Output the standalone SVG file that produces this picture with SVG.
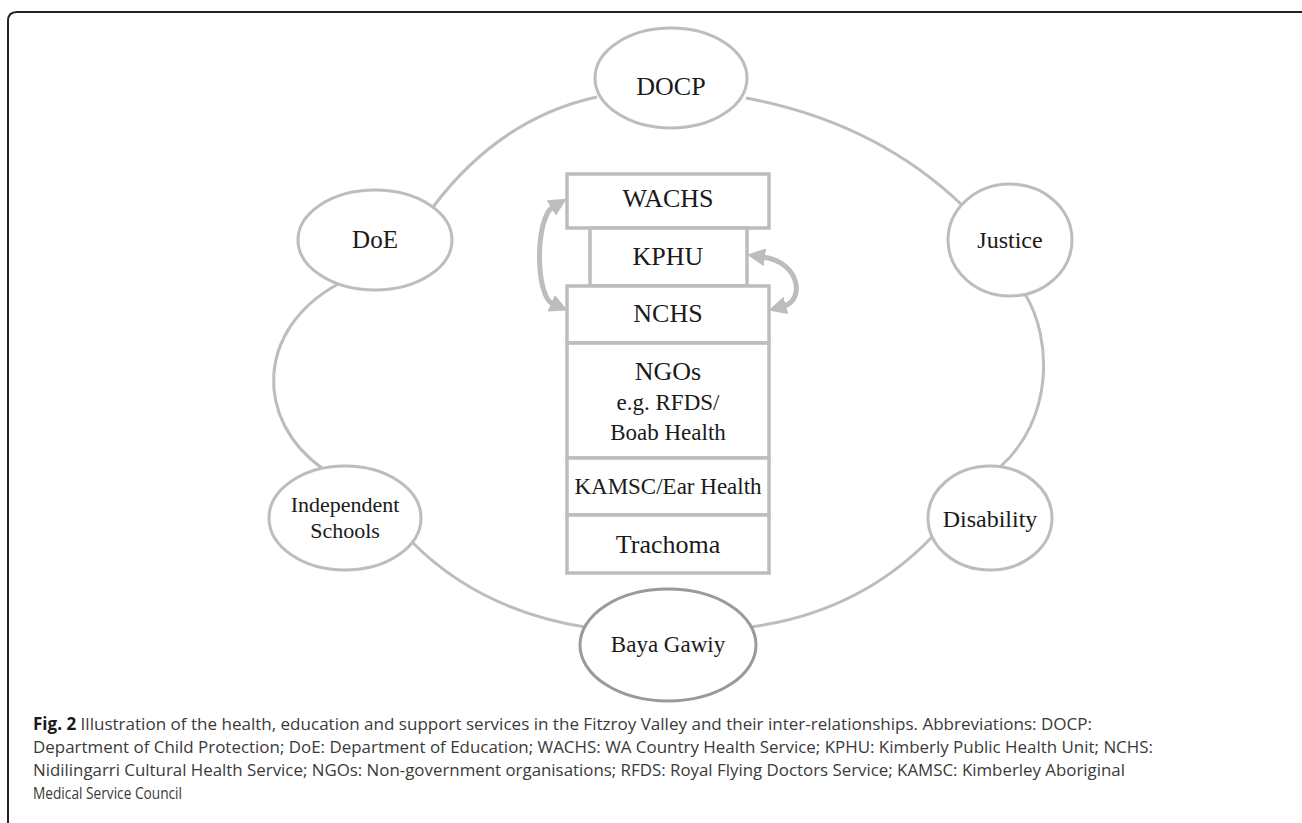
<svg xmlns="http://www.w3.org/2000/svg" width="1302" height="823" viewBox="0 0 1302 823">
<style>
.node ellipse{fill:#fff;stroke:#bdbdbd;stroke-width:3}
.node rect{fill:#fff;stroke:#bdbdbd;stroke-width:3.5}
.lbl{font-family:"Liberation Serif","Times New Roman",serif;fill:#1a1a1a;text-anchor:middle}
.ring{fill:none;stroke:#bdbdbd;stroke-width:3}
.arr{fill:none;stroke:#bdbdbd;stroke-width:5}
.cap{font-family:"Open Sans","Liberation Sans",sans-serif;font-size:17px;fill:#3a3a3a}
</style>
<defs>
<marker id="ah" markerUnits="userSpaceOnUse" markerWidth="20" markerHeight="18" refX="2" refY="9" orient="auto-start-reverse">
<path d="M0,0 L18,9 L0,18 z" fill="#bdbdbd"/>
</marker>
</defs>
<rect width="1302" height="823" fill="#fff"/>
<path d="M8 823 V21 Q8 12 17 12 H1302" fill="none" stroke="#222" stroke-width="2"/>
<g id="connectors">
<path class="ring" d="M597 97 Q500 118 433 207"/>
<path class="ring" d="M746 98 Q875 122 962 205"/>
<path class="ring" d="M338 284 C255 330 255 420 322 468"/>
<path class="ring" d="M1025 294 C1053 340 1053 420 1000 467"/>
<path class="ring" d="M413 543 Q480 610 585 627"/>
<path class="ring" d="M932 537 Q860 612 751 627"/>
<path class="arr" marker-start="url(#ah)" marker-end="url(#ah)" d="M553 207 C535 218 535 296 553 304"/>
<path class="arr" marker-start="url(#ah)" marker-end="url(#ah)" d="M763 257 C800 262 805 300 784 306"/>
</g>
<g id="DOCP" class="node"><ellipse cx="671" cy="78" rx="76" ry="50"/><text class="lbl" x="671" y="95" font-size="26">DOCP</text></g>
<g id="DoE" class="node"><ellipse cx="375" cy="240" rx="77" ry="50"/><text class="lbl" x="375" y="248" font-size="25">DoE</text></g>
<g id="Justice" class="node"><ellipse cx="1010" cy="240" rx="62" ry="56"/><text class="lbl" x="1010" y="248" font-size="24">Justice</text></g>
<g id="IndependentSchools" class="node"><ellipse cx="345" cy="518" rx="76" ry="52"/><text class="lbl" x="345" y="512" font-size="22">Independent</text><text class="lbl" x="345" y="538" font-size="22">Schools</text></g>
<g id="Disability" class="node"><ellipse cx="990" cy="518" rx="62" ry="52"/><text class="lbl" x="990" y="527" font-size="24">Disability</text></g>
<g id="BayaGawiy" class="node"><ellipse cx="668" cy="645" rx="88" ry="56" style="stroke:#9a9a9a"/><text class="lbl" x="668" y="652" font-size="23">Baya Gawiy</text></g>
<g id="WACHS" class="node"><rect x="567" y="174" width="202" height="54"/><text class="lbl" x="668" y="207" font-size="26">WACHS</text></g>
<g id="KPHU" class="node"><rect x="590" y="228" width="157" height="58"/><text class="lbl" x="668" y="265" font-size="26">KPHU</text></g>
<g id="NCHS" class="node"><rect x="567" y="286" width="202" height="57"/><text class="lbl" x="668" y="322" font-size="26">NCHS</text></g>
<g id="NGOs" class="node"><rect x="567" y="343" width="202" height="115"/><text class="lbl" x="668" y="380" font-size="26">NGOs</text><text class="lbl" x="668" y="410" font-size="23">e.g. RFDS/</text><text class="lbl" x="668" y="440" font-size="23">Boab Health</text></g>
<g id="KAMSC" class="node"><rect x="567" y="458" width="202" height="57"/><text class="lbl" x="668" y="494" font-size="23">KAMSC/Ear Health</text></g>
<g id="Trachoma" class="node"><rect x="567" y="515" width="202" height="58"/><text class="lbl" x="668" y="553" font-size="26">Trachoma</text></g>
<g id="caption">
<text class="cap" x="33" y="730" textLength="1059" lengthAdjust="spacingAndGlyphs"><tspan font-weight="bold" fill="#1a1a1a">Fig. 2</tspan> Illustration of the health, education and support services in the Fitzroy Valley and their inter-relationships. Abbreviations: DOCP:</text>
<text class="cap" x="33" y="753" textLength="1120" lengthAdjust="spacingAndGlyphs">Department of Child Protection; DoE: Department of Education; WACHS: WA Country Health Service; KPHU: Kimberly Public Health Unit; NCHS:</text>
<text class="cap" x="33" y="776" textLength="1092" lengthAdjust="spacingAndGlyphs">Nidilingarri Cultural Health Service; NGOs: Non-government organisations; RFDS: Royal Flying Doctors Service; KAMSC: Kimberley Aboriginal</text>
<text class="cap" x="33" y="799" textLength="149" lengthAdjust="spacingAndGlyphs">Medical Service Council</text>
</g>
</svg>
